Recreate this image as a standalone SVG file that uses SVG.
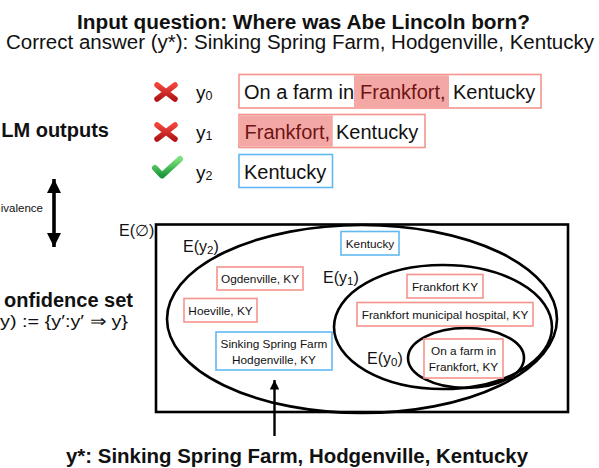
<svg xmlns="http://www.w3.org/2000/svg" width="599" height="468" viewBox="0 0 599 468">
<style>
text{font-family:"Liberation Sans",Arial,sans-serif;fill:#111}
.b{font-weight:bold}
.rb{fill:#fff;stroke:#f4958d;stroke-width:1.6}
.bb{fill:#fff;stroke:#62b9f0;stroke-width:1.6}
.hl{fill:#f4a8a5}
.big{font-size:20px}
.sm{font-size:11.8px;text-anchor:middle}
.el{fill:none;stroke:#000;stroke-width:2.6}
.lab{font-size:16px}
.hlt{fill:#6e1414}
</style>
<defs>
<linearGradient id="gr" x1="0" y1="0" x2="0" y2="1"><stop offset="0" stop-color="#f0443c"/><stop offset="1" stop-color="#b3171b"/></linearGradient>
<linearGradient id="gg" x1="0" y1="0" x2="0" y2="1"><stop offset="0" stop-color="#7be07a"/><stop offset="1" stop-color="#1c9a3a"/></linearGradient>
<marker id="ah" viewBox="0 0 10 10" refX="10" refY="5" markerWidth="4" markerHeight="4" orient="auto-start-reverse"><path d="M0,0 L10,5 L0,10 z" fill="#000"/></marker>
<marker id="ah2" viewBox="0 0 10 10" refX="10" refY="5" markerWidth="4.5" markerHeight="4" orient="auto"><path d="M0,0 L10,5 L0,10 z" fill="#000"/></marker>
</defs>

<g id="title">
<text class="b" x="303.5" y="29" font-size="20" text-anchor="middle" textLength="453" lengthAdjust="spacingAndGlyphs">Input question: Where was Abe Lincoln born?</text>
<text x="300" y="49" font-size="20" text-anchor="middle" textLength="588" lengthAdjust="spacingAndGlyphs">Correct answer (y*): Sinking Spring Farm, Hodgenville, Kentucky</text>
</g>

<g id="left-labels">
<text class="b" x="109" y="137" font-size="20" text-anchor="end">LM outputs</text>
<text x="43" y="212" font-size="11.5" text-anchor="end">ivalence</text>
<text class="b" x="133" y="307" font-size="20" text-anchor="end">onfidence set</text>
<text x="128" y="327" font-size="17" text-anchor="end" textLength="128" lengthAdjust="spacingAndGlyphs">y) := {y′:y′ ⇒ y}</text>
</g>

<g id="y0">
<path d="M157,85 L175,99 M175,85 L157,99" stroke="url(#gr)" stroke-width="5.5" stroke-linecap="round" fill="none"/>
<text x="196" y="99" font-size="19">y<tspan font-size="12.5" dy="1">0</tspan></text>
<rect class="rb" x="239" y="74.5" width="302" height="33.5"/>
<rect class="hl" x="354" y="75.3" width="95" height="31.9"/>
<text class="big" x="244" y="99">On a farm in</text>
<text class="big hlt" x="360" y="99">Frankfort,</text>
<text class="big" x="453" y="99">Kentucky</text>
</g>

<g id="y1">
<path d="M157,125 L175,139 M175,125 L157,139" stroke="url(#gr)" stroke-width="5.5" stroke-linecap="round" fill="none"/>
<text x="196" y="139" font-size="19">y<tspan font-size="12.5" dy="1">1</tspan></text>
<rect class="rb" x="239" y="114.5" width="186" height="33"/>
<rect class="hl" x="239.8" y="115.3" width="93" height="31.4"/>
<text class="big hlt" x="244.5" y="139">Frankfort,</text>
<text class="big" x="336" y="139">Kentucky</text>
</g>

<g id="y2">
<path d="M155,168 L162,175.5 L180,159" stroke="url(#gg)" stroke-width="6" stroke-linecap="round" stroke-linejoin="round" fill="none"/>
<text x="196" y="179" font-size="19">y<tspan font-size="12.5" dy="1">2</tspan></text>
<rect class="bb" x="239" y="154.5" width="93.5" height="33"/>
<text class="big" x="244" y="179">Kentucky</text>
</g>

<g id="sets">
<rect x="156" y="224.5" width="412" height="187.5" fill="none" stroke="#000" stroke-width="2.6"/>
<text class="lab" x="119" y="236">E(∅)</text>
<ellipse class="el" cx="362" cy="319" rx="195" ry="94"/>
<text class="lab" x="183" y="252">E(y<tspan font-size="11.5" dy="2">2</tspan><tspan dy="-2">)</tspan></text>
<ellipse class="el" cx="443" cy="327" rx="109" ry="62"/>
<text class="lab" x="323" y="283">E(y<tspan font-size="11.5" dy="2">1</tspan><tspan dy="-2">)</tspan></text>
<ellipse class="el" cx="466" cy="358" rx="58" ry="30"/>
<text class="lab" x="367" y="364">E(y<tspan font-size="11.5" dy="2">0</tspan><tspan dy="-2">)</tspan></text>
</g>

<g id="n-kentucky">
<rect class="bb" x="341" y="231.5" width="58" height="23.5"/>
<text class="sm" x="370" y="248">Kentucky</text>
</g>
<g id="n-ogdenville">
<rect class="rb" x="217" y="267" width="86" height="23"/>
<text class="sm" x="260" y="283">Ogdenville, KY</text>
</g>
<g id="n-hoeville">
<rect class="rb" x="184" y="298.5" width="73" height="23.5"/>
<text class="sm" x="220.5" y="314.5">Hoeville, KY</text>
</g>
<g id="n-sinking">
<rect class="bb" x="216" y="332" width="116" height="38"/>
<text class="sm" x="274" y="348">Sinking Spring Farm</text>
<text class="sm" x="274" y="363.5">Hodgenville, KY</text>
</g>
<g id="n-frankfortky">
<rect class="rb" x="407" y="274.5" width="76" height="23.5"/>
<text class="sm" x="445" y="290.5">Frankfort KY</text>
</g>
<g id="n-hospital">
<rect class="rb" x="357" y="302.5" width="176" height="23.5"/>
<text class="sm" x="445" y="318.5">Frankfort municipal hospital, KY</text>
</g>
<g id="n-farm">
<rect class="rb" x="424" y="339" width="79" height="39"/>
<text class="sm" x="463.5" y="355">On a farm in</text>
<text class="sm" x="463.5" y="370.5">Frankfort, KY</text>
</g>

<g id="bottom-label">
<text class="b" x="66" y="462.5" font-size="20" textLength="462" lengthAdjust="spacingAndGlyphs">y*: Sinking Spring Farm, Hodgenville, Kentucky</text>
</g>

<g id="connectors">
<line x1="54" y1="179" x2="54" y2="247" stroke="#000" stroke-width="3.6" marker-start="url(#ah)" marker-end="url(#ah)"/>
<line x1="274.5" y1="436" x2="274.5" y2="380" stroke="#000" stroke-width="2.4" marker-end="url(#ah2)"/>
</g>
</svg>
